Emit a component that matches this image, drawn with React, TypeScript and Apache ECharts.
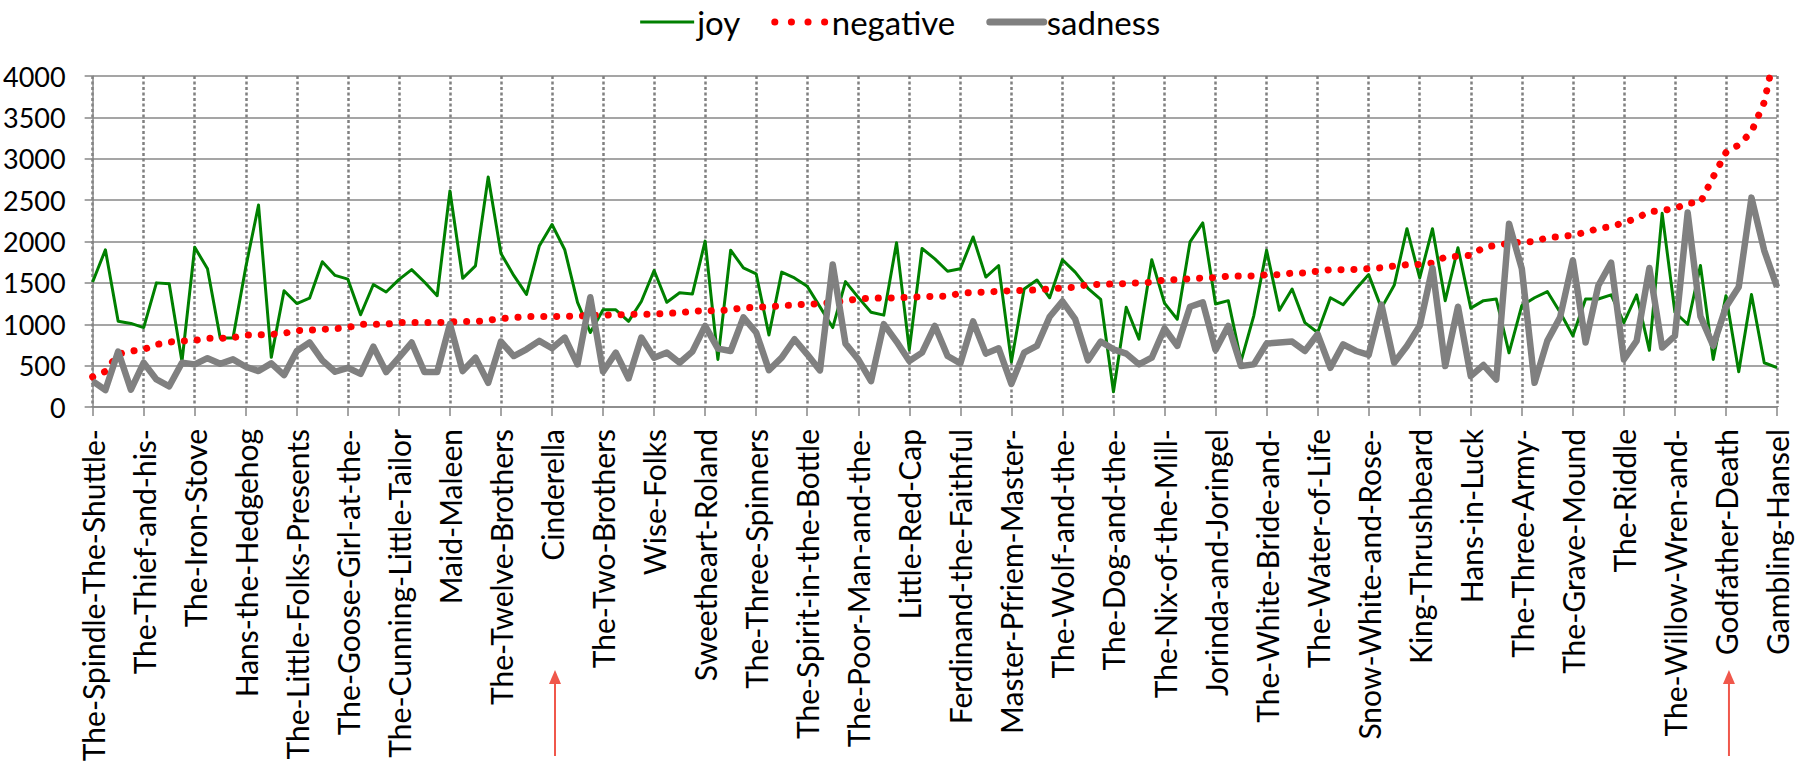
import React, { useEffect, useRef } from "react";
import * as echarts from "echarts";

const tickLabels = [
  "The-Spindle-The-Shuttle-", "The-Thief-and-his-", "The-Iron-Stove", "Hans-the-Hedgehog",
  "The-Little-Folks-Presents", "The-Goose-Girl-at-the-", "The-Cunning-Little-Tailor", "Maid-Maleen",
  "The-Twelve-Brothers", "Cinderella", "The-Two-Brothers", "Wise-Folks", "Sweetheart-Roland",
  "The-Three-Spinners", "The-Spirit-in-the-Bottle", "The-Poor-Man-and-the-", "Little-Red-Cap",
  "Ferdinand-the-Faithful", "Master-Pfriem-Master-", "The-Wolf-and-the-", "The-Dog-and-the-",
  "The-Nix-of-the-Mill-", "Jorinda-and-Joringel", "The-White-Bride-and-", "The-Water-of-Life",
  "Snow-White-and-Rose-", "King-Thrushbeard", "Hans-in-Luck", "The-Three-Army-", "The-Grave-Mound",
  "The-Riddle", "The-Willow-Wren-and-", "Godfather-Death", "Gambling-Hansel",
];

const joy = [
  1510, 1900, 1035, 1010, 960, 1500, 1490, 550, 1930, 1670, 835, 835, 1690, 2440, 600, 1405,
  1250, 1315, 1755, 1590, 1545, 1115, 1480, 1390, 1540, 1660, 1510, 1345, 2610, 1555, 1705, 2780,
  1855, 1590, 1360, 1945, 2205, 1900, 1265, 900, 1175, 1175, 1035, 1275, 1650, 1265, 1380, 1365,
  2005, 575, 1895, 1680, 1610, 870, 1630, 1560, 1460, 1210, 960, 1515, 1325, 1145, 1110, 1985,
  690, 1915, 1790, 1640, 1670, 2055, 1570, 1710, 545, 1425, 1535, 1320, 1780, 1630, 1435, 1300,
  185, 1205, 820, 1780, 1255, 1060, 1995, 2225, 1245, 1285, 555, 1105, 1895, 1170, 1425, 1020,
  900, 1320, 1235, 1425, 1600, 1195, 1470, 2155, 1560, 2155, 1285, 1925, 1195, 1285, 1305, 655,
  1225, 1320, 1395, 1145, 860, 1305, 1305, 1355, 1020, 1355, 685, 2340, 1145, 1000, 1710, 575,
  1345, 425, 1360, 535, 475,
];

const negative = [
  365, 430, 640, 675, 695, 755, 785, 797, 805, 830, 830, 837, 870, 870, 878, 890,
  925, 927, 939, 947, 960, 1000, 1000, 1000, 1020, 1020, 1020, 1020, 1028, 1032, 1032, 1049,
  1069, 1081, 1093, 1093, 1093, 1095, 1097, 1108, 1110, 1112, 1120, 1122, 1122, 1134, 1136, 1160,
  1163, 1165, 1175, 1200, 1203, 1211, 1224, 1232, 1244, 1246, 1264, 1285, 1305, 1315, 1317, 1318,
  1325, 1333, 1337, 1339, 1374, 1386, 1388, 1398, 1406, 1408, 1415, 1427, 1439, 1447, 1480, 1481,
  1488, 1490, 1500, 1508, 1537, 1538, 1549, 1560, 1561, 1581, 1582, 1583, 1598, 1600, 1618, 1619,
  1642, 1659, 1660, 1661, 1671, 1683, 1703, 1720, 1722, 1740, 1813, 1821, 1833, 1927, 1955, 1976,
  1996, 1998, 2049, 2057, 2077, 2110, 2159, 2179, 2228, 2280, 2362, 2374, 2398, 2463, 2472, 2780,
  3075, 3167, 3325, 3683, 4400,
];

const sadness = [
  312, 205, 670, 210, 535, 333, 250, 535, 515, 590, 523, 576, 487, 434, 527, 385,
  677, 780, 564, 426, 474, 401, 730, 422, 596, 779, 422, 422, 1002, 434, 596, 292,
  791, 616, 697, 799, 710, 839, 515, 1326, 426, 657, 345, 839, 596, 657, 535, 669,
  981, 706, 677, 1083, 900, 446, 596, 819, 637, 442, 1723, 766, 576, 312, 1002, 791,
  556, 657, 981, 616, 527, 1034, 645, 710, 280, 657, 738, 1091, 1277, 1062, 564, 791,
  697, 645, 515, 596, 949, 738, 1212, 1265, 690, 981, 495, 515, 766, 779, 791, 677,
  880, 474, 758, 677, 629, 1237, 535, 738, 981, 1680, 495, 1212, 373, 507, 333, 2215,
  1671, 292, 799, 1083, 1772, 779, 1468, 1745, 576, 799, 1680, 718, 860, 2350, 1095, 740,
  1210, 1450, 2530, 1890, 1450,
];

const yTicks = { min: 0, max: 4000, interval: 500 };
const labelEvery = 4;
const categories = joy.map((_, i) => (i % labelEvery === 0 ? tickLabels[i / labelEvery] : ""));
const arrowTargets = ["Cinderella", "Godfather-Death"];

const FONT = "Lato, 'Open Sans', 'DejaVu Sans', sans-serif";
const GRID = "#878787";

export default function App() {
  const ref = useRef<HTMLDivElement>(null);

  useEffect(() => {
    document.body.style.margin = "0";
    const chart = echarts.init(ref.current!, null, { renderer: "svg" });
    chart.setOption({
      animation: false,
      backgroundColor: "#ffffff",
      textStyle: { fontFamily: FONT, color: "#000" },
      legend: {
        top: 0,
        left: "center",
        itemWidth: 54,
        itemHeight: 14,
        itemGap: 31,
        textStyle: {
          fontSize: 33,
          color: "#000",
          fontFamily: FONT,
          lineHeight: 20,
          padding: [14, 0, 0, -2],
        },
        data: [
          { name: "joy", itemStyle: { opacity: 0 }, lineStyle: { color: "#008000", width: 3 } },
          {
            name: "negative",
            itemStyle: { opacity: 0 },
            lineStyle: { color: "#ff0000", width: 7, type: [0.1, 16.5], cap: "round" },
          },
          {
            name: "sadness",
            itemStyle: { opacity: 0 },
            lineStyle: { color: "#808080", width: 7, cap: "round" },
          },
        ],
      },
      grid: { left: 88, right: 22, top: 76, bottom: 366 },
      xAxis: {
        type: "category",
        data: categories,
        boundaryGap: false,
        axisLine: { lineStyle: { color: GRID, width: 1.5 } },
        axisTick: { interval: labelEvery - 1, length: 9, lineStyle: { color: GRID, width: 1.5 } },
        axisLabel: {
          interval: labelEvery - 1,
          rotate: 90,
          fontSize: 30,
          color: "#000",
          fontFamily: FONT,
          margin: 22,
        },
        splitLine: {
          show: true,
          interval: labelEvery - 1,
          lineStyle: { color: "#808080", width: 2.5, type: [3, 2.5] },
        },
      },
      yAxis: {
        type: "value",
        min: yTicks.min,
        max: yTicks.max,
        interval: yTicks.interval,
        axisLine: { show: true, lineStyle: { color: GRID, width: 1.5 } },
        axisTick: { show: true, length: 8, lineStyle: { color: GRID, width: 1.5 } },
        axisLabel: {
          fontSize: 27,
          color: "#000",
          fontFamily: FONT,
          margin: 27,
          formatter: (v: number) => String(v),
        },
        splitLine: { lineStyle: { color: GRID, width: 1.5 } },
      },
      series: [
        {
          name: "joy",
          type: "line",
          data: joy,
          symbol: "none",
          lineStyle: { color: "#008000", width: 3, join: "round" },
          itemStyle: { color: "#008000" },
        },
        {
          name: "negative",
          type: "line",
          data: negative,
          symbol: "none",
          lineStyle: { color: "#ff0000", width: 7, type: [0.1, 12.8], cap: "round" },
          itemStyle: { color: "#ff0000" },
        },
        {
          name: "sadness",
          type: "line",
          data: sadness,
          symbol: "none",
          lineStyle: { color: "#808080", width: 6.5, join: "round" },
          itemStyle: { color: "#808080" },
        },
      ],
    });

    const tipY = 670;
    const headH = 14;
    const headW = 12;
    const baseY = 756;
    const arrowColor = "#f0574b";
    const graphics = arrowTargets.map((name) => {
      const idx = categories.indexOf(name);
      const x = (chart.convertToPixel({ xAxisIndex: 0 }, idx) as number) + 3;
      return {
        type: "group",
        children: [
          {
            type: "line",
            shape: { x1: x, y1: baseY, x2: x, y2: tipY + headH - 1 },
            style: { stroke: arrowColor, lineWidth: 2 },
          },
          {
            type: "polygon",
            shape: {
              points: [
                [x, tipY],
                [x - headW / 2, tipY + headH],
                [x + headW / 2, tipY + headH],
              ],
            },
            style: { fill: arrowColor },
          },
        ],
      };
    });
    chart.setOption({ graphic: graphics });

    return () => chart.dispose();
  }, []);

  return <div ref={ref} style={{ width: 1799, height: 773 }} />;
}
